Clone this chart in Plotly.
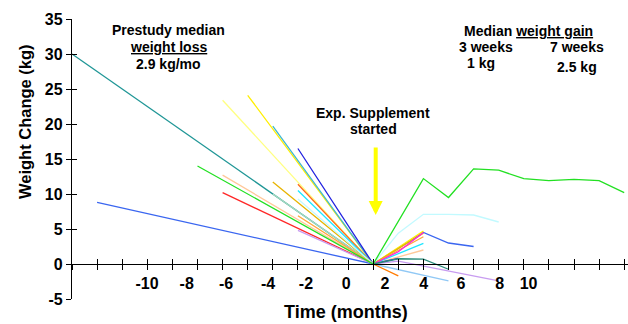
import plotly.graph_objects as go

# ---------------- data (x in axis tick units; convergence at tick 12) ----------------
teal_x = [0, 12];                 teal_y = [30, 0]
royal_x = [1, 12, 14, 15, 16];    royal_y = [8.8, 0, 4.5, 3.0, 2.5]
green_x = [5, 12, 14, 15, 16, 17, 18, 19, 20, 21, 22]
green_y = [14.0, 0, 12.2, 9.5, 13.6, 13.4, 12.2, 11.9, 12.1, 11.9, 10.2]
red_x = [6, 12];                  red_y = [10.2, 0]
peach_x = [6, 12, 14];            peach_y = [12.7, 0, 2.0]
paleyel_x = [6, 12];              paleyel_y = [23.4, 0]
yellow_x = [7, 12, 14];           yellow_y = [24.1, 0, 4.7]
steel_x = [8, 12];                steel_y = [19.7, 0]
gold_x = [8, 12, 14];             gold_y = [11.7, 0, 4.4]
sage_x = [8, 12];                 sage_y = [10.0, 0]
dblue_x = [9, 12, 13];            dblue_y = [16.5, 0, 0.8]
ored_x = [9, 12];                 ored_y = [11.4, 0]
cyan_x = [9, 12, 14];             cyan_y = [10.5, 0, 2.95]
palecyan_x = [9, 12, 13, 14, 15, 16, 17]
palecyan_y = [9.3, 0, 4.4, 7.1, 7.1, 7.0, 6.0]
orange_x = [9, 12, 14];           orange_y = [6.9, 0, 3.9]
lav_x = [9, 12, 13, 17];          lav_y = [4.8, 0, 0.4, -2.4]
mag_x = [12, 13, 14];             mag_y = [0, 1.75, 4.5]
lblue_x = [12, 15];               lblue_y = [0, -2.4]
dorange_x = [12, 13];             dorange_y = [0, -1.7]
tealr_x = [12, 13, 14, 15];       tealr_y = [0, 0.75, 0.7, -0.75]

# tick labels of the time axis and where they sit (in tick units)
time_labels = ["-10", "-8", "-6", "-4", "-2", "0", "2", "4", "6", "8", "10"]
time_label_pos = [2.99, 4.57, 6.14, 7.81, 9.32, 10.92, 12.47, 14.01, 15.50, 17.04, 18.19]
y_ticks = [-5, 0, 5, 10, 15, 20, 25, 30, 35]
y_labels = ["-5", "0", "5", "10", "15", "20", "25", "30", "35"]

series = [
    (teal_x, teal_y, "#1F9696"),
    (royal_x, royal_y, "#3A66F0"),
    (red_x, red_y, "#FF2626"),
    (peach_x, peach_y, "#FFC89A"),
    (paleyel_x, paleyel_y, "#FFFF80"),
    (yellow_x, yellow_y, "#FFEE00"),
    (steel_x, steel_y, "#3FB8D0"),
    (sage_x, sage_y, "#A8DCC0"),
    (gold_x, gold_y, "#E8B400"),
    (dblue_x, dblue_y, "#2222E0"),
    (ored_x, ored_y, "#FF6A1A"),
    (cyan_x, cyan_y, "#1EE6FF"),
    (palecyan_x, palecyan_y, "#C2FAFF"),
    (orange_x, orange_y, "#FFA83A"),
    (lav_x, lav_y, "#C89CF0"),
    (mag_x, mag_y, "#FF20E0"),
    (lblue_x, lblue_y, "#90C8F5"),
    (dorange_x, dorange_y, "#FF7A00"),
    (tealr_x, tealr_y, "#2A8A7A"),
    (green_x, green_y, "#22E022"),
]

FONT = "Liberation Sans, Arial, Helvetica, sans-serif"
W, H = 628, 324
L, R, T, B = 72, 0, 19, 25
PW, PH = W - L - R, H - T - B
XR = [0, PW / 25.1]
YR = [-5, 35]
zero_pos = (0 - YR[0]) / (YR[1] - YR[0])


def px_x(px):
    return (px - L) / PW


def px_y(py):
    return (H - B - py) / PH


fig = go.Figure()
for xs, ys, c in series:
    fig.add_trace(go.Scatter(x=xs, y=ys, mode="lines", line=dict(color=c, width=1.3),
                             showlegend=False, hoverinfo="skip"))
# dummy traces so the overlay axes render
fig.add_trace(go.Scatter(x=[None], y=[None], xaxis="x2", yaxis="y", showlegend=False))
fig.add_trace(go.Scatter(x=[None], y=[None], xaxis="x3", yaxis="y", showlegend=False))
fig.add_trace(go.Scatter(x=[None], y=[None], xaxis="x", yaxis="y2", showlegend=False))

common_x = dict(range=XR, showgrid=False, zeroline=False, anchor="free", position=zero_pos)
fig.update_layout(
    template="none", showlegend=False,
    width=W, height=H, margin=dict(l=L, r=R, t=T, b=B),
    paper_bgcolor="white", plot_bgcolor="white",
    font=dict(family=FONT, color="black"),
    # labels of the time axis
    xaxis=dict(**common_x, showline=True, linecolor="black", linewidth=1.3, ticks="",
               tickmode="array", tickvals=time_label_pos, ticktext=time_labels,
               tickfont=dict(family=FONT, size=16, weight="bold", color="black"),
               ticklabelstandoff=5),
    # tick marks (downward)
    xaxis2=dict(**common_x, overlaying="x", showline=False,
                tickmode="linear", tick0=0, dtick=1, ticks="outside", ticklen=5,
                tickwidth=1.3, tickcolor="black", showticklabels=False),
    # tick marks (upward)
    xaxis3=dict(**common_x, overlaying="x", showline=False,
                tickmode="linear", tick0=0, dtick=1, ticks="inside", ticklen=5,
                tickwidth=1.3, tickcolor="black", showticklabels=False),
    yaxis=dict(range=YR, showgrid=False, zeroline=False, showline=True, linecolor="black",
               linewidth=1.3, tickmode="array", tickvals=y_ticks, ticktext=y_labels,
               ticks="outside", ticklen=5, tickwidth=1.3, tickcolor="black",
               tickfont=dict(family=FONT, size=16, weight="bold", color="black"),
               ticklabelstandoff=0),
    yaxis2=dict(range=YR, overlaying="y", showgrid=False, zeroline=False, showline=False,
                tickmode="array", tickvals=y_ticks, ticks="inside", ticklen=5,
                tickwidth=1.3, tickcolor="black", showticklabels=False),
)

bold14 = dict(family=FONT, size=14, weight="bold", color="black")
texts = [
    ("Prestudy median", 168, 30),
    ("<u>weight loss</u>", 168, 47),
    ("2.9 kg/mo", 168, 64),
    ("Exp. Supplement", 373, 113),
    ("started", 373, 129),
    ("Median <u>weight gain</u>", 528, 31),
    ("3 weeks", 486, 47),
    ("7 weeks", 577, 47),
    ("1 kg", 481, 63),
    ("2.5 kg", 577, 67),
]
for t, x, y in texts:
    fig.add_annotation(text=t, x=px_x(x), y=px_y(y), xref="paper", yref="paper",
                       xanchor="center", yanchor="middle", showarrow=False, font=bold14)

fig.add_annotation(text="Weight Change (kg)", x=px_x(25), y=px_y(122), xref="paper",
                   yref="paper", xanchor="center", yanchor="middle", textangle=-90,
                   showarrow=False, font=dict(family=FONT, size=16.5, weight="bold"))
fig.add_annotation(text="Time (months)", x=px_x(346), y=px_y(312), xref="paper",
                   yref="paper", xanchor="center", yanchor="middle", showarrow=False,
                   font=dict(family=FONT, size=18, weight="bold"))

# arrow
fig.add_annotation(x=12.1, y=7.0, xref="x", yref="y", text="", showarrow=True,
                   ax=0, ay=-69, arrowcolor="#FFFF00", arrowwidth=4, arrowhead=2,
                   arrowsize=0.7, standoff=0)

fig.write_html("out.html")
